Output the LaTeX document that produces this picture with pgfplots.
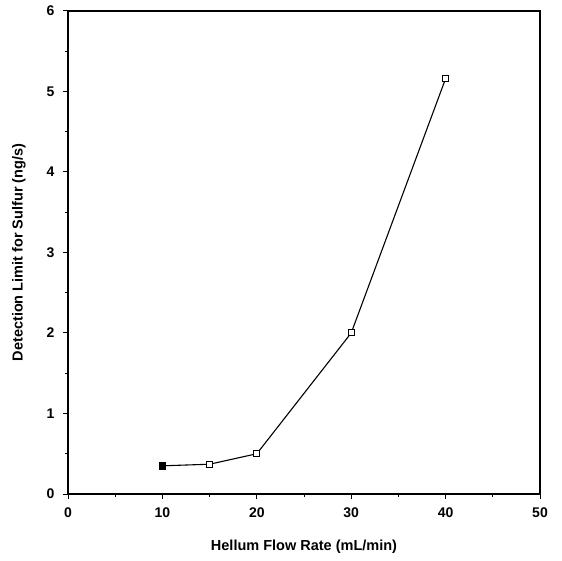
\documentclass[border=0pt]{standalone}
\usepackage{fontspec}
\setmainfont{Liberation Sans}
\usepackage{pgfplots}
\pgfplotsset{compat=1.18}

\begin{document}
\begin{tikzpicture}
\begin{axis}[
  scale only axis, width=472pt, height=483pt,
  xmin=0, xmax=50, ymin=0, ymax=6,
  xtick={0,10,...,50}, ytick={0,1,...,6},
  minor xtick={5,15,...,45}, minor ytick={0.5,1.5,...,5.5},
  tick align=outside, tick pos=left,
  major tick length=5pt, minor tick length=3pt,
  every tick/.style={black, line width=1pt},
  axis line style={black, line width=1.3pt},
  ticklabel style={font=\fontsize{14}{16}\selectfont\bfseries},
  xticklabel style={yshift=-5pt},
  yticklabel style={xshift=-5pt},
  /pgf/number format/assume math mode=true,
  xlabel={Hellum Flow Rate (mL/min)},
  ylabel={Detection Limit for Sulfur (ng/s)},
  label style={font=\fontsize{14.5}{17}\selectfont\bfseries},
  xlabel style={yshift=-16pt},
  ylabel style={yshift=14pt},
  clip=false,
]
\addplot[black, line width=1.1pt, mark=square*, mark size=3pt,
  mark options={fill=white, line width=1pt}]
  coordinates {(10,0.35) (15,0.37) (20,0.50) (30,2.00) (40,5.16)};
\addplot[only marks, black, mark=square*, mark size=3pt]
  coordinates {(10,0.35)};
\end{axis}
\path (current axis.south west) ++(-68pt,-66pt) coordinate (bl);
\path (current axis.north east) ++(22pt,11pt) coordinate (tr);
\path (bl) rectangle (tr);
\end{tikzpicture}
\end{document}
